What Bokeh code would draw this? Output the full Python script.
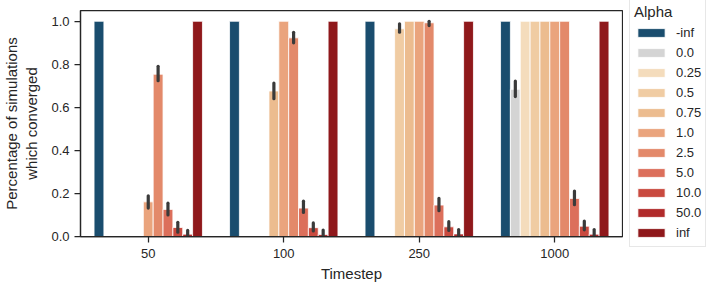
from bokeh.plotting import figure
from bokeh.models import (ColumnDataSource, FactorRange, Range1d, FixedTicker,
                          Legend, LegendItem, PrintfTickFormatter, Plot)
from bokeh.transform import dodge
from bokeh.layouts import row
from bokeh.embed import file_html
from bokeh.resources import INLINE
import math

# ---------------- data ----------------
timesteps = ["50", "100", "250", "1000"]
alphas = ["-inf", "0.0", "0.25", "0.5", "0.75", "1.0", "2.5", "5.0", "10.0", "50.0", "inf"]
colors = ["#1a4d6e", "#d4d4d4", "#f4dcbc", "#f0cca3", "#ecbc8f", "#eaa47d",
          "#e3896a", "#dc6f5b", "#c94a3f", "#b12b2b", "#8f181b"]

# mean fraction converged per alpha, one list per timestep
conv_50 = [1.0, 0.0, 0.0, 0.0, 0.0, 0.161, 0.754, 0.126, 0.042, 0.011, 1.0]
conv_100 = [1.0, 0.0, 0.0, 0.0, 0.676, 1.0, 0.923, 0.132, 0.041, 0.009, 1.0]
conv_250 = [1.0, 0.0, 0.0, 0.965, 1.0, 1.0, 0.993, 0.146, 0.045, 0.012, 1.0]
conv_1000 = [1.0, 0.684, 1.0, 1.0, 1.0, 1.0, 1.0, 0.177, 0.048, 0.011, 1.0]

nan = float("nan")
# confidence interval bounds (nan = no visible error bar)
ci_lo_50 = [nan, nan, nan, nan, nan, 0.132, 0.724, 0.100, 0.020, 0.000, nan]
ci_hi_50 = [nan, nan, nan, nan, nan, 0.189, 0.791, 0.155, 0.066, 0.028, nan]
ci_lo_100 = [nan, nan, nan, nan, 0.640, nan, 0.900, 0.112, 0.026, 0.000, nan]
ci_hi_100 = [nan, nan, nan, nan, 0.713, nan, 0.949, 0.164, 0.063, 0.030, nan]
ci_lo_250 = [nan, nan, nan, 0.949, nan, nan, 0.980, 0.120, 0.028, 0.000, nan]
ci_hi_250 = [nan, nan, nan, 0.988, nan, nan, 1.000, 0.177, 0.069, 0.032, nan]
ci_lo_1000 = [nan, 0.650, nan, nan, nan, nan, nan, 0.148, 0.031, 0.002, nan]
ci_hi_1000 = [nan, 0.722, nan, nan, nan, nan, nan, 0.211, 0.072, 0.032, nan]

y_ticks = [0.0, 0.2, 0.4, 0.6, 0.8, 1.0]

conv = [conv_50, conv_100, conv_250, conv_1000]
lo = [ci_lo_50, ci_lo_100, ci_lo_250, ci_lo_1000]
hi = [ci_hi_50, ci_hi_100, ci_hi_250, ci_hi_1000]

FONT = "Liberation Sans"
TXT = "#262626"

p = figure(width=623, height=284, x_range=FactorRange(*timesteps),
           y_range=Range1d(0, 1.05), output_backend="svg", toolbar_location=None,
           min_border_left=68, min_border_right=1, min_border_top=10,
           min_border_bottom=46)
p.background_fill_color = "white"
p.border_fill_color = "white"
p.outline_line_color = TXT
p.outline_line_width = 1.25
p.xgrid.visible = False
p.ygrid.visible = False

# separate narrow figure that only holds the legend
pl = figure(width=85, height=284, x_range=Range1d(0, 1), y_range=Range1d(0, 1),
            x_axis_type=None, y_axis_type=None, output_backend="svg",
            toolbar_location=None, min_border=0)
pl.outline_line_color = None
pl.background_fill_color = "white"
pl.border_fill_color = "white"

free_frame = "frame_align" in Plot.properties()
if free_frame:
    pl.frame_align = False

n = len(alphas)
bw = 0.8 / n
items = []
for i, a in enumerate(alphas):
    off = (i - (n - 1) / 2) * bw
    src = ColumnDataSource(dict(t=timesteps, v=[c[i] for c in conv]))
    p.vbar(x=dodge("t", off, range=p.x_range), top="v", width=bw, bottom=0,
           source=src, fill_color=colors[i], line_color="white", line_width=0.8)
    et, el, eh = [], [], []
    for k, t in enumerate(timesteps):
        if not math.isnan(lo[k][i]):
            et.append(t); el.append(lo[k][i]); eh.append(hi[k][i])
    if et:
        esrc = ColumnDataSource(dict(t=et, lo=el, hi=eh))
        p.segment(x0=dodge("t", off, range=p.x_range), x1=dodge("t", off, range=p.x_range),
                  y0="lo", y1="hi", source=esrc, line_color="#3a3a3a", line_width=3.2,
                  line_cap="round")
    # legend swatch proxy (a single NaN row, never drawn) in the legend figure
    lr = pl.vbar(x=[nan], top=[nan], width=0.1, fill_color=colors[i], line_color="white",
                 line_width=0.8)
    items.append(LegendItem(label=a, renderers=[lr]))

for ax in (p.xaxis[0], p.yaxis[0]):
    ax.axis_line_color = TXT
    ax.axis_line_width = 1.25
    ax.major_tick_line_color = TXT
    ax.major_tick_line_width = 1.25
    ax.major_tick_out = 6
    ax.major_tick_in = 0
    ax.minor_tick_line_color = None
    ax.major_label_text_font = FONT
    ax.major_label_text_font_size = "13px"
    ax.major_label_text_color = TXT
    ax.axis_label_text_font = FONT
    ax.axis_label_text_font_size = "15px"
    ax.axis_label_text_font_style = "normal"
    ax.axis_label_text_color = TXT

p.xaxis.axis_label = "Timestep"
p.xaxis.major_label_standoff = 6
p.xaxis.axis_label_standoff = 4
p.yaxis.axis_label = "Percentage of simulations\nwhich converged"
p.yaxis.ticker = FixedTicker(ticks=y_ticks)
p.yaxis.formatter = PrintfTickFormatter(format="%.1f")
p.yaxis.major_label_standoff = 5
p.yaxis.axis_label_standoff = 8

if free_frame:
    leg_loc, row_h = (6, 37), 20
else:
    leg_loc, row_h = (6, 1), 18

legend = Legend(items=items, location=leg_loc, title="Alpha",
                title_text_font=FONT, title_text_font_size="15px",
                title_text_font_style="normal", title_text_color=TXT,
                title_standoff=2,
                label_text_font=FONT, label_text_font_size="13px", label_text_color=TXT,
                glyph_width=34, glyph_height=11, label_height=row_h, label_standoff=8,
                spacing=0, padding=4, margin=0,
                border_line_color="#d0d0d0", border_line_width=1,
                background_fill_color="white", background_fill_alpha=1.0)
pl.add_layout(legend, "center")

layout = row(p, pl, spacing=0)
open("out.html", "w").write(file_html(layout, INLINE))
